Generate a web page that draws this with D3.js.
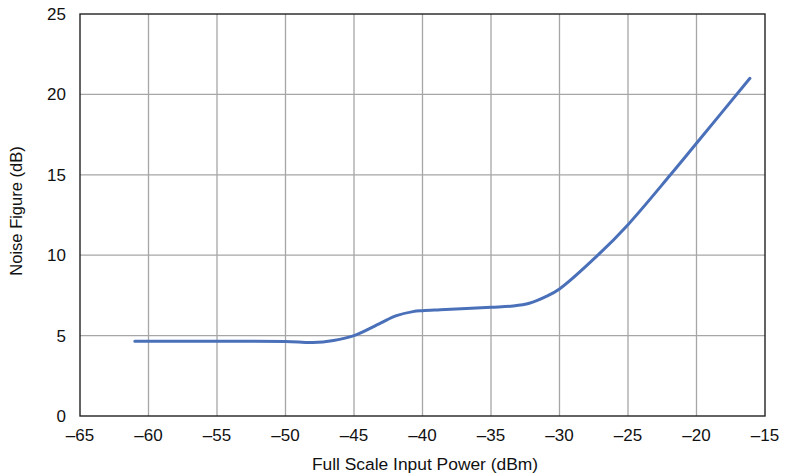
<!DOCTYPE html>
<html><head><meta charset="utf-8">
<script src="https://cdn.jsdelivr.net/npm/d3@7"></script>
<style>
body{margin:0;background:#fff;}
text{font-family:"Liberation Sans",Arial,Helvetica,sans-serif;fill:#111;}
</style></head>
<body><svg id="c" width="785" height="476"></svg>
<script>
const inputPower = [-61, -55, -50, -48, -46.5, -45, -43.1, -41.9, -40.7, -40, -38.7, -35, -33.4, -32.2, -31, -30, -27.2, -25, -21.9, -20, -16.1];
const noiseFigure = [4.65, 4.65, 4.64, 4.57, 4.7, 5.0, 5.76, 6.24, 6.49, 6.55, 6.61, 6.76, 6.84, 7.01, 7.42, 7.9, 10.0, 11.9, 15.0, 16.96, 21.0];
const xTicks = [-65, -60, -55, -50, -45, -40, -35, -30, -25, -20, -15];
const yTicks = [0, 5, 10, 15, 20, 25];

const svg = d3.select("#c");
const L = 80, R = 765, T = 14, B = 416;
const x = d3.scaleLinear().domain([-65, -15]).range([L, R]);
const y = d3.scaleLinear().domain([0, 25]).range([B, T]);
const fmt = v => String(v).replace("-", "\u2013");

// grid
svg.append("g").selectAll("line").data(xTicks.slice(1, -1)).join("line")
  .attr("x1", d => x(d)).attr("x2", d => x(d)).attr("y1", T).attr("y2", B)
  .attr("stroke", "#a6a6a6").attr("stroke-width", 1.3);
svg.append("g").selectAll("line").data(yTicks.slice(1, -1)).join("line")
  .attr("y1", d => y(d)).attr("y2", d => y(d)).attr("x1", L).attr("x2", R)
  .attr("stroke", "#a6a6a6").attr("stroke-width", 1.3);

// frame
svg.append("rect").attr("x", L).attr("y", T).attr("width", R - L).attr("height", B - T)
  .attr("fill", "none").attr("stroke", "#222").attr("stroke-width", 1.4);

// tick labels
svg.append("g").selectAll("text").data(xTicks).join("text")
  .attr("x", d => x(d)).attr("y", 441).attr("text-anchor", "middle")
  .attr("font-size", 17).text(fmt);
svg.append("g").selectAll("text").data(yTicks).join("text")
  .attr("x", 66).attr("y", d => y(d) + 6).attr("text-anchor", "end")
  .attr("font-size", 17).text(fmt);

// axis titles
svg.append("text").attr("x", 425).attr("y", 470).attr("text-anchor", "middle")
  .attr("font-size", 17.4).text("Full Scale Input Power (dBm)");
svg.append("text").attr("transform", `translate(22,211) rotate(-90)`)
  .attr("text-anchor", "middle").attr("font-size", 16.5).text("Noise Figure (dB)");

// line
const data = inputPower.map((v, i) => [v, noiseFigure[i]]);
svg.append("path").datum(data)
  .attr("d", d3.line().x(d => x(d[0])).y(d => y(d[1])).curve(d3.curveCatmullRom.alpha(0.5)))
  .attr("fill", "none").attr("stroke", "#4a70b9").attr("stroke-width", 3)
  .attr("stroke-linecap", "round");
</script></body></html>
